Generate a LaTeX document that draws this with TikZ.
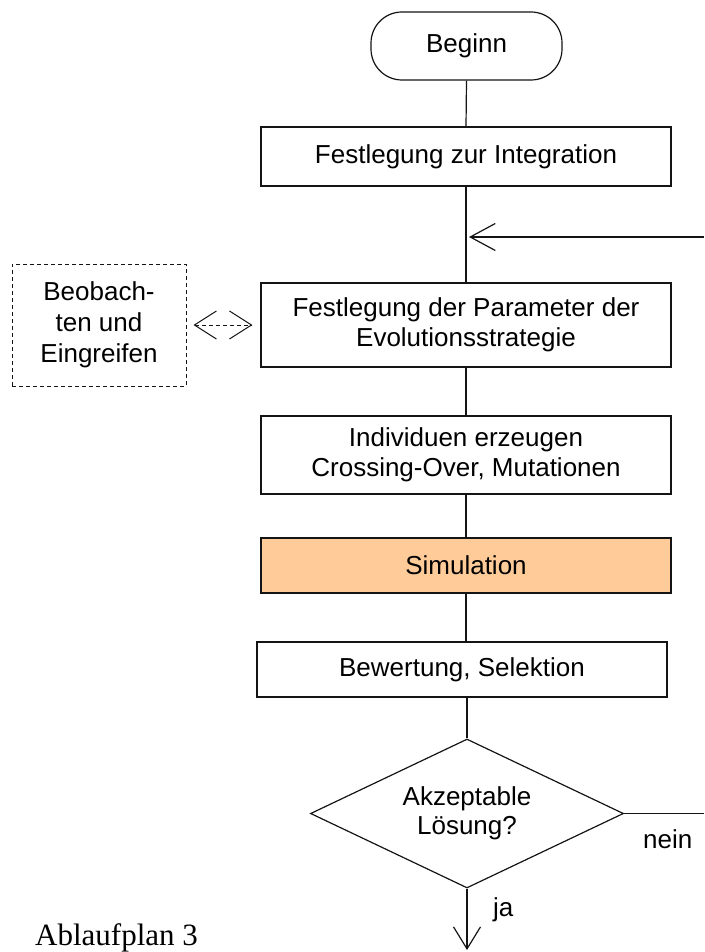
\documentclass[tikz,border=0pt]{standalone}
\usepackage{fontspec}
\setmainfont{Liberation Sans}
\newfontfamily\capserif{Liberation Serif}
\usetikzlibrary{arrows.meta,shapes.geometric}
\definecolor{simfill}{RGB}{255,204,153}
\definecolor{linegray}{RGB}{20,20,20}
\begin{document}
\begin{tikzpicture}[x=1pt,y=-1pt,
  every node/.style={font=\fontsize{26}{29.5}\selectfont, text=black},
  conn/.style={draw=linegray, line width=1.2pt},
  procbox/.style={draw=linegray, line width=1.2pt, rectangle, minimum width=410pt, inner sep=0pt, align=center},
  termbox/.style={draw=linegray, line width=1.2pt, rectangle, rounded corners=31pt, inner sep=0pt, align=center},
  decbox/.style={draw=linegray, line width=1.2pt, diamond, aspect=2.1, inner sep=0pt, align=center},
  obsbox/.style={draw=linegray, line width=1pt, dash pattern=on 4pt off 3pt, rectangle, inner sep=0pt, align=center, font=\fontsize{26}{31}\selectfont},
  openhead/.style={-{Straight Barb[length=25pt,width=27pt,line width=1.2pt]}},
  lbl/.style={inner sep=0pt}
]
\useasboundingbox (0,0) rectangle (704,952);

\node[termbox, minimum width=191pt, minimum height=68pt] (beg) at (466.5,46) {Beginn};
\node[procbox, minimum height=59pt] (integ) at (466,156.5) {Festlegung zur Integration};
\node[procbox, minimum height=84pt] (param) at (466,325) {Festlegung der Parameter der\\Evolutionsstrategie};
\node[procbox, minimum height=78pt] (indiv) at (466,455) {Individuen erzeugen\\Crossing-Over, Mutationen};
\node[procbox, minimum height=55pt, fill=simfill] (sim) at (466,565.5) {Simulation};
\node[procbox, minimum height=55pt] (bew) at (462,669.5) {Bewertung, Selektion};
\node[decbox, minimum width=313pt, minimum height=149pt] (dec) at (467,813.5) {Akzeptable\\Lösung?};
\node[obsbox, minimum width=174pt, minimum height=122pt] (obs) at (99,325) {Beobach-\\ten und\\Eingreifen};

\coordinate (ret) at (704,237);
\coordinate (endp) at (467,950);

\draw[conn] (beg.south) -- (integ.north);
\draw[conn] (integ.south) -- (param.north);
\draw[conn, openhead, shorten >=3pt] (ret) -- (ret -| integ.south);
\draw[conn] (param.south) -- (indiv.north);
\draw[conn] (indiv.south) -- (sim.north);
\draw[conn] (sim.south) -- (sim.south |- bew.north);
\draw[conn] (dec.north |- bew.south) -- (dec.north);
\draw[conn] (dec.east) -- (dec.east -| ret);
\draw[conn, -{Straight Barb[length=22pt,width=27pt,line width=1.2pt]}] (dec.south) -- (endp);
\draw[draw=linegray, line width=1pt, dash pattern=on 4pt off 3pt,
  {Straight Barb[length=22pt,width=28pt,line width=1pt]}-{Straight Barb[length=22pt,width=28pt,line width=1pt]},
  shorten <=7pt, shorten >=8pt] (obs.east) -- (param.west);

\node[lbl, anchor=base west] (nein) at (643,848) {nein};
\node[lbl, anchor=base west] (ja) at (493,916) {ja};
\node[lbl, anchor=base west, font=\capserif\fontsize{31}{36}\selectfont] (title) at (35,945) {Ablaufplan 3};
\end{tikzpicture}
\end{document}
